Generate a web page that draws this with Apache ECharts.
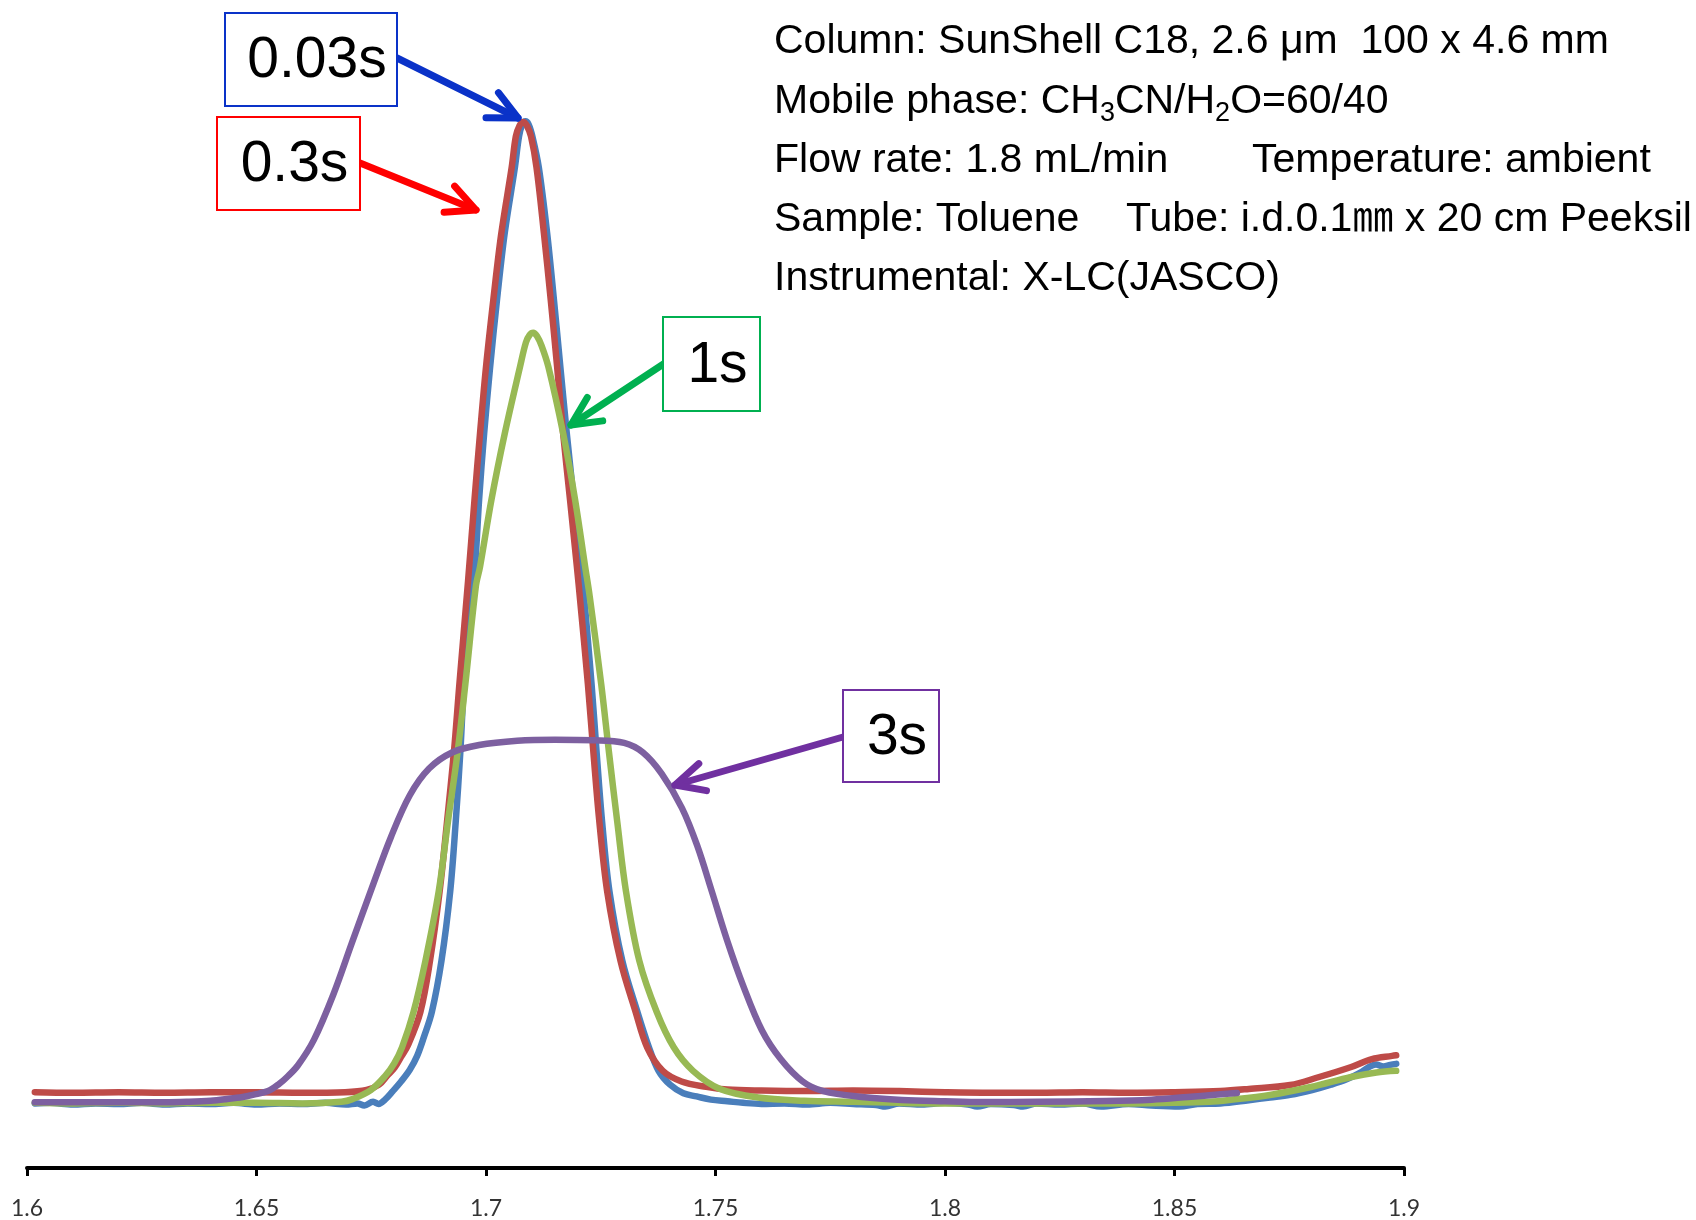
<!DOCTYPE html>
<html><head><meta charset="utf-8">
<script src="https://cdn.jsdelivr.net/npm/echarts@6/dist/echarts.min.js"></script>
<style>html,body{margin:0;padding:0;background:#fff}#c{width:1696px;height:1220px}</style>
</head><body><div id="c"></div>
<script>
// ---- data (retention time [min], detector signal [arb.]) ----
const xMin = 1.6, xMax = 1.9, xStep = 0.05;
const seriesNames = ['0.03s', '0.3s', '1s', '3s'];

const s003 = [
 [1.6017,6.05],[1.605,6.1],[1.61,5.95],[1.615,6.05],[1.62,6.0],[1.625,6.1],[1.63,5.95],[1.635,6.05],
 [1.64,6.0],[1.645,6.1],[1.65,5.95],[1.655,6.05],[1.66,6.0],[1.665,6.1],[1.6695,5.95],[1.672,6.05],
 [1.6735,5.85],[1.6754,6.2],[1.6766,6.0],[1.678,6.4],[1.6797,7.2],[1.6815,8.1],[1.6834,9.2],[1.685,10.5],
 [1.6865,12.3],[1.6882,14.6],[1.6903,19.4],[1.6922,25.9],[1.6934,32.4],[1.6944,38.9],[1.6952,45.3],
 [1.6966,52.5],[1.6976,56.3],[1.6985,62.6],[1.6996,68.8],[1.7009,75.0],[1.7024,81.3],[1.7041,87.6],
 [1.7063,93.7],[1.7072,96.6],[1.7079,97.7],[1.7086,98.0],[1.7093,97.7],[1.7101,96.6],[1.7115,93.7],
 [1.7133,87.6],[1.7148,81.3],
 [1.7162,75.0],[1.7176,68.8],[1.7191,62.6],[1.7205,56.3],[1.7212,54.2],[1.723,45.3],[1.7241,38.9],
 [1.7253,32.4],[1.7269,25.9],[1.7297,19.4],[1.733,14.6],[1.7355,11.3],[1.7376,9.1],[1.7401,7.8],
 [1.743,7.0],[1.7459,6.7],[1.749,6.4],[1.7526,6.25],[1.756,6.1],[1.76,6.0],[1.765,6.05],[1.77,5.95],
 [1.775,6.1],[1.78,6.0],[1.785,5.9],[1.787,5.75],[1.79,6.05],[1.795,5.95],[1.8,6.1],[1.805,5.95],
 [1.807,5.75],[1.81,6.0],[1.815,5.9],[1.817,5.75],[1.82,6.05],[1.825,5.95],[1.83,6.05],[1.834,5.75],
 [1.84,6.0],[1.845,5.85],[1.851,5.75],[1.855,6.0],[1.86,6.05],[1.8662,6.35],[1.8708,6.6],[1.8752,6.85],
 [1.88,7.3],[1.8841,7.8],[1.8875,8.3],[1.8904,8.9],[1.8925,9.5],[1.8939,9.7],[1.8955,9.5],[1.897,9.65],
 [1.8983,9.75]
];
const s03 = [
 [1.6017,7.1],[1.61,7.05],[1.62,7.1],[1.63,7.05],[1.64,7.1],[1.65,7.1],[1.66,7.05],[1.6693,7.1],
 [1.674,7.3],[1.6767,7.8],[1.6784,8.6],[1.6801,9.4],[1.6815,10.4],[1.683,11.5],[1.6857,14.6],
 [1.6878,19.4],[1.6899,25.9],[1.6915,32.4],[1.693,38.9],[1.6942,45.3],[1.6961,55.0],[1.6975,62.6],
 [1.6987,68.8],[1.7,75.0],[1.7016,81.3],[1.7033,87.4],[1.7056,93.7],[1.7065,96.6],[1.7073,97.6],
 [1.7081,97.95],[1.7089,97.6],[1.7098,96.6],[1.711,93.7],[1.7126,87.6],[1.7141,81.3],[1.7155,75.0],
 [1.7168,68.8],[1.7183,62.6],
 [1.7198,56.3],[1.7205,53.2],[1.7222,45.3],[1.7234,38.9],[1.7247,32.4],[1.7264,25.9],[1.7293,19.4],
 [1.7326,14.6],[1.7351,11.3],[1.7385,9.1],[1.7426,8.1],[1.748,7.6],[1.7526,7.35],[1.76,7.25],
 [1.77,7.2],[1.78,7.25],[1.79,7.2],[1.8,7.1],[1.81,7.05],[1.82,7.05],[1.83,7.1],[1.84,7.05],
 [1.85,7.1],[1.86,7.2],[1.8662,7.4],[1.8752,7.77],[1.8815,8.52],[1.8885,9.46],[1.893,10.2],
 [1.8974,10.5],[1.8983,10.55]
];
const s1 = [
 [1.6017,6.1],[1.61,6.05],[1.62,6.1],[1.63,6.05],[1.64,6.1],[1.65,6.1],[1.66,6.05],[1.6685,6.2],
 [1.6709,6.45],[1.6749,7.3],[1.678,8.6],[1.68,9.8],[1.6817,11.3],[1.6842,14.6],[1.6868,19.4],
 [1.6897,25.9],[1.6917,32.4],[1.6938,38.9],[1.6955,45.3],[1.6978,54.5],[1.6987,56.3],[1.7012,62.6],
 [1.7041,68.8],[1.7074,75.0],[1.7087,77.3],[1.7095,78.0],[1.7103,78.2],[1.7111,77.9],[1.7121,77.0],
 [1.7136,75.0],[1.7168,68.8],
 [1.7194,62.6],[1.7216,56.3],[1.7226,53.5],[1.7251,45.3],[1.7268,38.9],[1.7286,32.4],[1.7305,25.9],
 [1.7334,19.4],[1.7372,14.6],[1.7409,11.3],[1.7451,9.1],[1.751,7.4],[1.7593,6.6],[1.7693,6.3],
 [1.78,6.2],[1.79,6.1],[1.8,6.05],[1.81,6.05],[1.82,6.05],[1.83,6.05],[1.84,6.05],[1.85,6.1],
 [1.8575,6.2],[1.8619,6.37],[1.8708,6.84],[1.8797,7.58],[1.8885,8.52],[1.894,8.95],[1.8983,9.1]
];
const s3 = [
 [1.6017,6.15],[1.61,6.15],[1.62,6.15],[1.63,6.15],[1.635,6.2],[1.64,6.3],[1.6436,6.46],[1.647,6.65],
 [1.6492,6.85],[1.6525,7.2],[1.655,7.9],[1.6566,8.5],[1.659,9.6],[1.6625,12.0],[1.6667,16.2],
 [1.6708,21.1],[1.6752,26.3],[1.6793,31.0],[1.6834,34.9],[1.6876,37.4],[1.6926,38.9],[1.6985,39.6],
 [1.7068,40.0],[1.715,40.1],[1.7235,40.05],[1.7301,39.8],[1.7342,38.9],[1.7383,36.9],[1.7427,33.7],
 [1.746,30.2],[1.7492,25.9],[1.7525,21.35],[1.756,17.1],[1.7601,12.9],[1.7642,10.2],[1.769,8.1],
 [1.7735,7.2],[1.7819,6.65],[1.7906,6.37],[1.8,6.25],[1.8085,6.18],[1.82,6.2],[1.8351,6.27],
 [1.845,6.4],[1.8529,6.65],[1.86,6.9],[1.8636,7.02]
];

const infoLines = [
  ['Column: SunShell C18, 2.6 μm  100 x 4.6 mm'],
  ['Mobile phase: CH', '3', 'CN/H', '2', 'O=60/40'],
  ['Flow rate: 1.8 mL/min', 'Temperature: ambient'],
  ['Sample: Toluene', 'Tube: i.d.0.1㎜ x 20 cm Peeksil'],
  ['Instrumental: X-LC(JASCO)']
];
</script>
<script>
const colors = ['#4a7ebb', '#be4b48', '#98b954', '#7d60a0'];
const chart = echarts.init(document.getElementById('c'), null, {renderer: 'canvas'});

const FONT = '"Liberation Sans", Arial, "Noto Sans CJK JP", sans-serif';
const mctx = document.createElement('canvas').getContext('2d');
function tw(t, size) { mctx.font = size + 'px ' + FONT; return mctx.measureText(t).width; }

const graphics = [];
// info text block
const infoX = 774, infoY0 = 42, infoDY = 59.2, infoSize = 41;
function addText(t, x, y, size, color) {
  graphics.push({type: 'text', x: x, y: y, z: 10, style: {text: t, font: size + 'px ' + FONT, fill: color || '#000', textVerticalAlign: 'middle', textAlign: 'left'}});
}
addText(infoLines[0][0], infoX, infoY0, infoSize);
(function(){
  let x = infoX; const y = infoY0 + infoDY;
  infoLines[1].forEach((p, i) => {
    const sub = (i % 2 === 1);
    const size = sub ? 27 : infoSize;
    addText(p, x, sub ? y + 12 : y, size);
    x += tw(p, size);
  });
})();
addText(infoLines[2][0], infoX, infoY0 + infoDY * 2, infoSize);
addText(infoLines[2][1], 1252, infoY0 + infoDY * 2, infoSize);
addText(infoLines[3][0], infoX, infoY0 + infoDY * 3, infoSize);
addText(infoLines[3][1], 1126, infoY0 + infoDY * 3, infoSize);
addText(infoLines[4][0], infoX, infoY0 + infoDY * 4, infoSize);

// label boxes
const boxes = [
  {t: seriesNames[0], x: 225, y: 13, w: 172, h: 93, c: '#0a32c8'},
  {t: seriesNames[1], x: 217, y: 117, w: 143, h: 93, c: '#ff0000'},
  {t: seriesNames[2], x: 663, y: 317, w: 97, h: 94, c: '#00b050'},
  {t: seriesNames[3], x: 843, y: 690, w: 96, h: 92, c: '#7030a0'}
];
boxes.forEach(b => {
  graphics.push({type: 'rect', z: 10, shape: {x: b.x, y: b.y, width: b.w, height: b.h}, style: {fill: '#fff', stroke: b.c, lineWidth: 2}});
  graphics.push({type: 'text', z: 11, x: b.x + b.w / 2 + 6, y: b.y + b.h / 2 + 2, style: {text: b.t, font: '57px ' + FONT, fill: '#000', textAlign: 'center', textVerticalAlign: 'middle'}});
});

// arrows
const arrows = [
  {from: [397, 58], to: [518, 118], c: '#0a32c8'},
  {from: [360, 163], to: [476, 210], c: '#ff0000'},
  {from: [665, 363], to: [571, 425], c: '#00b050'},
  {from: [843, 737], to: [675, 785], c: '#7030a0'}
];
arrows.forEach(a => {
  const dx = a.to[0] - a.from[0], dy = a.to[1] - a.from[1];
  const back = Math.atan2(-dy, -dx), half = 26 * Math.PI / 180, len = 32;
  const p1 = [a.to[0] + len * Math.cos(back + half), a.to[1] + len * Math.sin(back + half)];
  const p2 = [a.to[0] + len * Math.cos(back - half), a.to[1] + len * Math.sin(back - half)];
  graphics.push({type: 'line', z: 9, shape: {x1: a.from[0], y1: a.from[1], x2: a.to[0], y2: a.to[1]}, style: {stroke: a.c, lineWidth: 7, lineCap: 'round'}});
  graphics.push({type: 'polyline', z: 9, shape: {points: [p1, a.to, p2]}, style: {stroke: a.c, lineWidth: 7, lineCap: 'round', lineJoin: 'round', fill: null}});
});

const data = [s003, s03, s1, s3];
chart.setOption({
  animation: false,
  backgroundColor: '#fff',
  grid: {left: 27, right: 292, top: 100, bottom: 52},
  xAxis: {
    type: 'value', min: xMin, max: xMax, interval: xStep,
    axisLine: {show: true, onZero: false, lineStyle: {color: '#000', width: 4}},
    axisTick: {show: true, length: 8, lineStyle: {color: '#000', width: 3}},
    splitLine: {show: false},
    axisLabel: {margin: 29, color: '#333', fontSize: 23, fontFamily: 'Lato, "Open Sans", sans-serif',
      formatter: v => String(+v.toFixed(2))}
  },
  yAxis: {type: 'value', min: 0, max: 100, show: false},
  series: data.map((d, i) => ({
    name: seriesNames[i], type: 'line', data: d, showSymbol: false, smooth: 0.35,
    lineStyle: {color: colors[i], width: 6.5, cap: 'round', join: 'round'}, itemStyle: {color: colors[i]}, z: 2 + i
  })),
  graphic: graphics
});
</script></body></html>
